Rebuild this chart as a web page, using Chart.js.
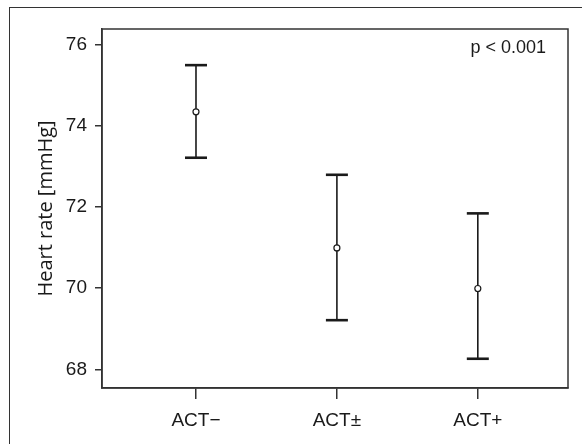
<!DOCTYPE html>
<html>
<head>
<meta charset="utf-8">
<script src="https://cdn.jsdelivr.net/npm/chart.js@4/dist/chart.umd.min.js"></script>
<style>
  html, body { margin: 0; padding: 0; background: #fff; }
  #wrap { position: relative; width: 582px; height: 444px; overflow: hidden; }
  #frame { position: absolute; left: 9px; top: 7px; width: 700px; height: 600px;
           border-left: 1.5px solid #333; border-top: 1.5px solid #333; }
  canvas { position: absolute; left: 0; top: 0; }
</style>
</head>
<body>
<div id="wrap">
  <div id="frame"></div>
  <canvas id="c" width="582" height="444"></canvas>
</div>
<script>
const categories = ['ACT\u2212', 'ACT\u00B1', 'ACT+'];
const means = [74.34, 70.99, 69.99];
const upper = [75.49, 72.79, 71.84];
const lower = [73.21, 69.21, 68.26];
const yTicks = [68, 70, 72, 74, 76];
const annotationText = 'p < 0.001';
const yTitle = 'Heart rate [mmHg]';

const TICK_FONT = "'Liberation Sans Narrow', 'Liberation Sans', Arial, sans-serif";
const NOTE_FONT = "'Liberation Sans', Arial, sans-serif";
const INK = '#1a1a1a';

const meanPts = means.map((m, i) => ({ x: i, y: m }));
const upperPts = upper.map((v, i) => ({ x: i, y: v }));
const lowerPts = lower.map((v, i) => ({ x: i, y: v }));
const stems = [];
categories.forEach((c, i) => {
  stems.push({ x: i, y: lower[i] });
  stems.push({ x: i, y: upper[i] });
  stems.push({ x: i, y: null });
});

const framePlugin = {
  id: 'frame',
  afterDraw(chart) {
    const { ctx, chartArea: a } = chart;
    ctx.save();
    ctx.strokeStyle = '#333';
    ctx.lineWidth = 1.5;
    ctx.strokeRect(a.left, a.top, a.right - a.left, a.bottom - a.top);
    ctx.fillStyle = INK;
    ctx.font = '18px ' + NOTE_FONT;
    ctx.textAlign = 'right';
    ctx.textBaseline = 'alphabetic';
    ctx.fillText(annotationText, a.right - 22, a.top + 24);
    ctx.restore();
  }
};

new Chart(document.getElementById('c'), {
  type: 'scatter',
  data: {
    datasets: [
      {
        data: meanPts,
        pointStyle: 'circle',
        pointRadius: 3,
        pointBackgroundColor: '#fff',
        pointBorderColor: INK,
        pointBorderWidth: 1.2,
        showLine: false
      },
      {
        data: upperPts,
        pointStyle: 'line',
        pointRadius: 11,
        pointBorderColor: INK,
        pointBorderWidth: 2.6,
        showLine: false
      },
      {
        data: lowerPts,
        pointStyle: 'line',
        pointRadius: 11,
        pointBorderColor: INK,
        pointBorderWidth: 2.6,
        showLine: false
      },
      {
        data: stems,
        showLine: true,
        spanGaps: false,
        pointRadius: 0,
        borderColor: INK,
        borderWidth: 1.6
      }
    ]
  },
  options: {
    responsive: false,
    animation: false,
    events: [],
    layout: { padding: { top: 29, right: 14, left: 0, bottom: 0 } },
    plugins: { legend: { display: false }, tooltip: { enabled: false } },
    scales: {
      x: {
        type: 'linear',
        min: -0.667,
        max: 2.64,
        afterBuildTicks(scale) { scale.ticks = categories.map((c, i) => ({ value: i })); },
        afterFit(scale) { scale.height = 56; },
        ticks: {
          callback: (v) => categories[v],
          color: INK,
          font: { family: TICK_FONT, size: 19 },
          padding: 10,
          maxRotation: 0
        },
        grid: { display: true, drawOnChartArea: false, drawTicks: true, tickLength: 11, color: '#333', lineWidth: 1.5 },
        border: { display: true, color: '#333', width: 1.5 }
      },
      y: {
        type: 'linear',
        min: 67.54,
        max: 76.38,
        afterBuildTicks(scale) { scale.ticks = yTicks.map(v => ({ value: v })); },
        afterFit(scale) { scale.width = 102; },
        ticks: {
          callback: (v) => String(v),
          color: INK,
          font: { family: TICK_FONT, size: 19 },
          padding: 8
        },
        title: {
          display: true,
          text: yTitle,
          color: INK,
          font: { family: "'Open Sans', 'Noto Sans', sans-serif", size: 20 },
          padding: { top: 34, bottom: 0 }
        },
        grid: { display: true, drawOnChartArea: false, drawTicks: true, tickLength: 7, color: '#333', lineWidth: 1.5 },
        border: { display: true, color: '#333', width: 1.5 }
      }
    }
  },
  plugins: [framePlugin]
});
</script>
</body>
</html>
